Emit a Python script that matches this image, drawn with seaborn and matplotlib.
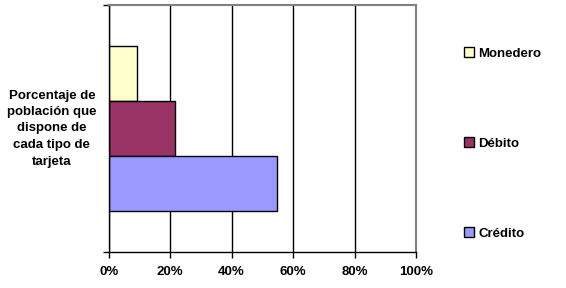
import matplotlib
matplotlib.use("Agg")
import matplotlib.pyplot as plt
import seaborn as sns
import pandas as pd
from matplotlib.patches import Patch
from matplotlib.ticker import FixedLocator

# Data
categoria = ["Porcentaje de\npoblación que\ndispone de\ncada tipo de\ntarjeta"]
tipos = ["Monedero", "Débito", "Crédito"]
valores = [9.3, 21.7, 54.7]
colores = ["#FFFFCC", "#993366", "#9999FF"]
xticks = [0, 20, 40, 60, 80, 100]
xtick_labels = ["0%", "20%", "40%", "60%", "80%", "100%"]

df = pd.DataFrame({"cat": categoria * len(tipos), "tipo": tipos, "valor": valores})

sns.set_theme(style="white")
plt.rcParams["font.family"] = ["Liberation Sans", "DejaVu Sans"]
plt.rcParams["font.weight"] = "bold"
plt.rcParams["text.color"] = "black"
plt.rcParams["xtick.color"] = "black"
plt.rcParams["ytick.color"] = "black"
plt.rcParams["axes.labelcolor"] = "black"

FS = 9.5

fig = plt.figure(figsize=(5.66, 2.88), dpi=100)
ax = fig.add_axes([108.7 / 566, 1 - 252 / 288, (416 - 108.7) / 566, (252 - 5) / 288])

sns.barplot(data=df, y="cat", x="valor", hue="tipo", hue_order=tipos,
            palette=colores, orient="h", width=0.665, ax=ax,
            edgecolor="black", linewidth=1, legend=False, saturation=1)

ax.set_xlim(0, 100)
ax.set_ylim(0.5, -0.5)
ax.set_xticks(xticks)
ax.set_xticklabels(xtick_labels, fontsize=FS, fontweight="bold", color="black")
ax.set_xlabel("")
ax.xaxis.grid(True, color="black", linewidth=1)
ax.set_axisbelow(True)
ax.tick_params(axis="x", direction="out", length=4, width=1, color="black",
               bottom=True, pad=6)

ax.set_yticks([0])
ax.set_yticklabels([""])
ax.tick_params(axis="y", which="major", length=0)
ax.yaxis.set_minor_locator(FixedLocator([-0.5, 0.5]))
ax.tick_params(axis="y", which="minor", direction="out", length=4, width=1,
               color="black", left=True)
ax.set_ylabel(categoria[0], rotation=0, fontsize=FS, fontweight="bold",
              ha="center", va="center", linespacing=1.5, color="black")
ax.yaxis.set_label_coords(-0.185, 0.5)

for side in ["left", "bottom"]:
    ax.spines[side].set_color("black")
    ax.spines[side].set_linewidth(1)
for side in ["top", "right"]:
    ax.spines[side].set_color("#808080")
    ax.spines[side].set_linewidth(1.5)
    ax.spines[side].set_visible(True)

handles = [Patch(facecolor=c, edgecolor="black", linewidth=1) for c in colores]
leg = fig.legend(handles, tipos, loc="upper left",
                 bbox_to_anchor=(459 / 566, 1 - 42 / 288),
                 frameon=False, prop={"weight": "bold", "size": FS},
                 handlelength=0.7, handleheight=0.7, handletextpad=0.35,
                 labelspacing=5.9, borderaxespad=0)
for t in leg.get_texts():
    t.set_color("black")

fig.savefig("out.png", dpi=100, facecolor="white")
